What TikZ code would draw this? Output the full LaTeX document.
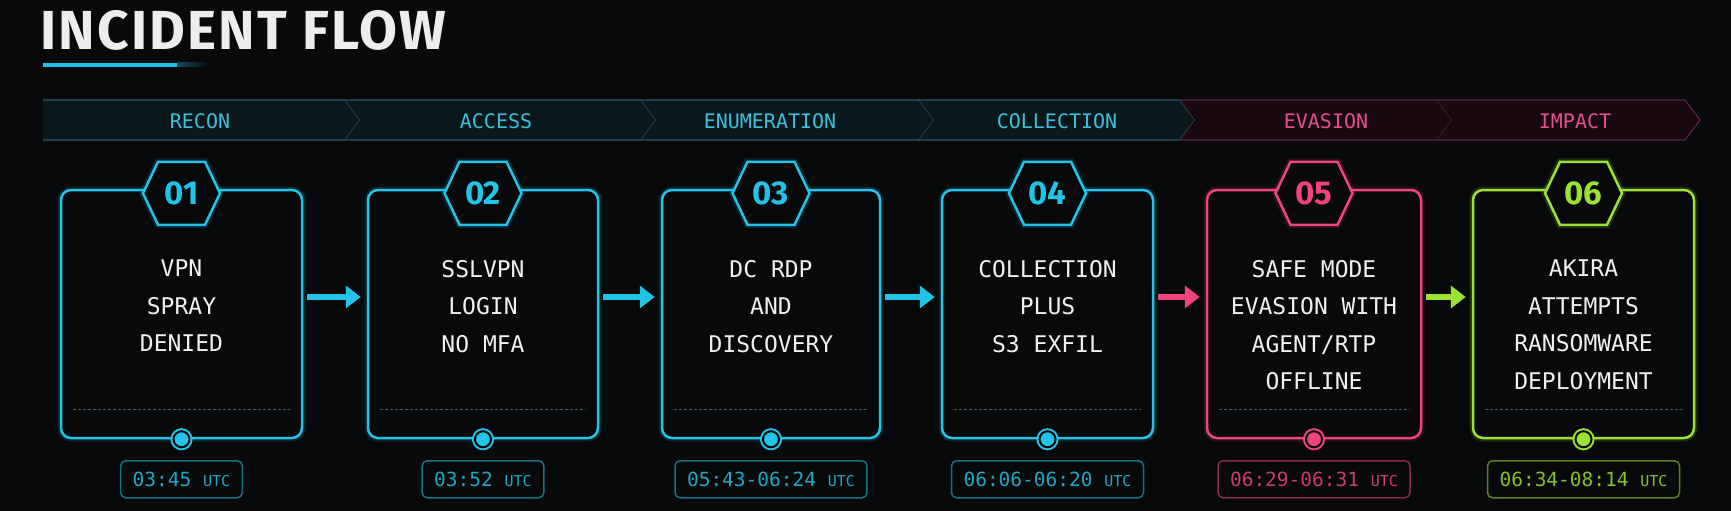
\documentclass[tikz,border=0pt]{standalone}
\usepackage{fontspec}
\setmainfont{Fira Sans}
\setmonofont{DejaVu Sans Mono}
\newfontfamily\titlefont{Fira Sans}[LetterSpace=4]
\usetikzlibrary{arrows.meta,positioning}

\definecolor{bg}{HTML}{07090B}
\definecolor{cyanc}{HTML}{22C3E6}
\definecolor{pinkc}{HTML}{F0437F}
\definecolor{greenc}{HTML}{9BE330}
\definecolor{bandcyan}{HTML}{0A181C}
\definecolor{bandcyanline}{HTML}{2B5A63}
\definecolor{bandpink}{HTML}{190A12}
\definecolor{bandpinkline}{HTML}{5C2340}
\definecolor{cyanlabel}{HTML}{3DBFDC}
\definecolor{pinklabel}{HTML}{E5508A}
\definecolor{dashgray}{HTML}{46565B}

\tikzset{
    card/.style={draw=#1, fill=bg, rounded corners=10pt, line width=2.5pt,
        minimum height=248pt, inner sep=0pt,
        preaction={draw=#1, line width=7pt, opacity=0.15}},
    hexline/.style={draw=#1, fill=bg, line width=2.5pt,
        preaction={draw=#1, line width=7pt, opacity=0.15}},
    numtext/.style={font=\bfseries\fontsize{33}{33}\selectfont, inner sep=0pt},
    cardtext/.style={text=white!94!black, align=center, inner sep=0pt,
        font=\ttfamily\fontsize{23}{37.5}\selectfont},
    dashline/.style={draw=dashgray, line width=1pt, dash pattern=on 3pt off 2pt},
    dotmark/.style={circle, minimum size=16pt, inner sep=0pt, fill=#1,
        draw=bg, line width=2pt, preaction={draw=#1, line width=6pt}},
    stamp/.style={draw=#1!55!bg, text=#1!85!bg, rounded corners=5pt,
        line width=1.5pt, minimum height=37pt, inner xsep=12pt,
        font=\ttfamily\fontsize{19.5}{19.5}\selectfont},
    bandlabel/.style={font=\ttfamily\fontsize{20}{20}\selectfont, inner sep=0pt},
    flow/.style={draw=#1, line width=6pt, -{Triangle[length=15pt,width=22pt]},
        shorten <=4pt, shorten >=6pt},
}

\begin{document}
\begin{tikzpicture}[x=1pt, y=-1pt]
    \fill[bg] (0,0) rectangle (1731,511);
    \useasboundingbox (0,0) rectangle (1731,511);

    % title
    \node[anchor=base west, inner sep=0pt, text=white!93!black,
        font=\titlefont\bfseries\fontsize{55}{60}\selectfont] (title) at (40,50) {INCIDENT FLOW};
    \fill[cyanc] (43,63) rectangle (177,67);
    \shade[left color=cyanc!35!bg, right color=bg] (177,63) rectangle (210,67);

    % phase band
    \foreach \xa/\xb/\nd/\fc/\lc/\lx/\tc/\lbl in {
        43/345/0/bandcyan/bandcyanline/200/cyanlabel/RECON,
        345/641/15/bandcyan/bandcyanline/496/cyanlabel/ACCESS,
        641/919/15/bandcyan/bandcyanline/770/cyanlabel/ENUMERATION,
        919/1180/15/bandcyan/bandcyanline/1057/cyanlabel/COLLECTION,
        1180/1437/15/bandpink/bandpinkline/1326/pinklabel/EVASION,
        1437/1685/15/bandpink/bandpinkline/1575/pinklabel/IMPACT}
    {
        \fill[\fc] (\xa,100) -- (\xb,100) -- (\xb+15,120) -- (\xb,140)
            -- (\xa,140) -- (\xa+\nd,120) -- cycle;
        \draw[\lc, line width=1.2pt] (\xa,100) -- (\xb,100) -- (\xb+15,120)
            -- (\xb,140) -- (\xa,140);
        \node[bandlabel, text=\tc] (b\lbl) at (\lx,121) {\lbl};
    }

    % stage cards
    \foreach \i/\cx/\w/\col/\txt/\ts in {
        1/181.5/241/cyanc/{VPN\\SPRAY\\DENIED}/{03:45},
        2/483/230/cyanc/{SSLVPN\\LOGIN\\NO MFA}/{03:52},
        3/771/218/cyanc/{DC RDP\\AND\\DISCOVERY}/{05:43-06:24},
        4/1047.5/211/cyanc/{COLLECTION\\PLUS\\S3 EXFIL}/{06:06-06:20},
        5/1314/214/pinkc/{SAFE MODE\\EVASION WITH\\AGENT/RTP\\OFFLINE}/{06:29-06:31},
        6/1583.5/221/greenc/{AKIRA\\ATTEMPTS\\RANSOMWARE\\DEPLOYMENT}/{06:34-08:14}}
    {
        \node[card=\col, minimum width=\w] (c\i) at (\cx,314) {};
        \path (c\i.north) ++(0,4.5) coordinate (hc\i);
        \draw[hexline=\col] ([shift={(-38.5,0)}]hc\i) -- ([shift={(-23.5,-31.5)}]hc\i)
            -- ([shift={(23.5,-31.5)}]hc\i) -- ([shift={(38.5,0)}]hc\i)
            -- ([shift={(23.5,31.5)}]hc\i) -- ([shift={(-23.5,31.5)}]hc\i) -- cycle;
        \node[numtext, text=\col] (n\i) at (hc\i) {0\i};
        \node[cardtext, anchor=north] (x\i) at ([yshift=-71pt]c\i.north) {\txt};
        \draw[dashline] ([xshift=13pt,yshift=30pt]c\i.south west)
            -- ([xshift=-13pt,yshift=30pt]c\i.south east);
        \node[dotmark=\col] (d\i) at (c\i.south) {};
        \node[stamp=\col] (t\i) at ([yshift=-40pt]c\i.south)
            {\ts\ {\fontsize{15}{15}\selectfont UTC}};
    }

    % arrows between stages
    \foreach \a/\b/\col in {1/2/cyanc, 2/3/cyanc, 3/4/cyanc, 4/5/pinkc, 5/6/greenc}
        \draw[flow=\col] ([yshift=17pt]c\a.east) -- ([yshift=17pt]c\b.west);
\end{tikzpicture}
\end{document}
